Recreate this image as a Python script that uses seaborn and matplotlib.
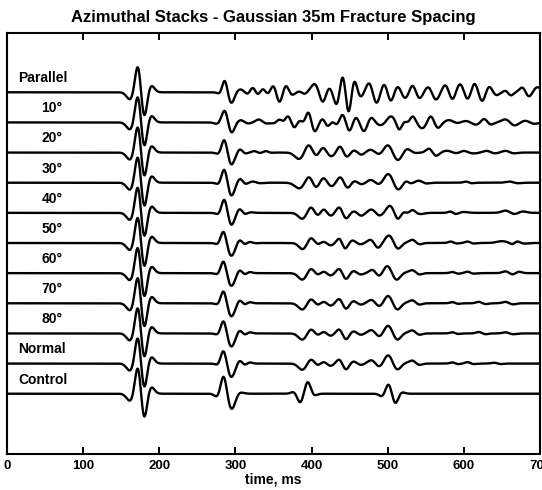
import numpy as np
import pandas as pd
import matplotlib
matplotlib.use("Agg")
import matplotlib.pyplot as plt
import seaborn as sns

# ---------------- data ----------------
trace_names = ["Parallel", "10°", "20°", "30°", "40°", "50°", "60°", "70°", "80°", "Normal", "Control"]
x_ticks = [0, 100, 200, 300, 400, 500, 600, 700]

# first arrival wavelet (identical on every trace): extremum times (ms) and amplitudes (trace spacings)
first_t = [162, 172, 180, 189]
first_a = [-0.25, 0.95, -0.88, 0.24]

parallel_t = [280, 286, 294.5, 306, 316, 323, 329, 336, 342.6, 350, 358, 366, 374, 384, 391, 404, 414.6, 423, 433,
              441, 448.5, 456, 464, 476, 485, 495.5, 504, 513, 523, 532.6, 541.4, 553.6, 563, 576, 585, 595, 605, 614,
              624, 633, 642, 655, 661.5, 677, 685.5, 696.5]
parallel_a = [-0.07, 0.43, -0.37, 0.10, -0.07, 0.17, -0.10, 0.12, -0.07, 0.24, -0.36, 0.25, -0.10, 0.03, -0.06, 0.28,
              -0.36, 0.17, -0.44, 0.62, -0.75, 0.44, -0.17, 0.33, -0.39, 0.30, -0.33, 0.22, -0.22, 0.26, -0.22, 0.19,
              -0.26, 0.26, -0.28, 0.30, -0.28, 0.33, -0.33, 0.22, -0.11, 0.06, -0.11, 0.17, -0.17, 0.17]

deg10_t = [277, 286, 294.5, 307, 316, 331, 340, 350, 358, 363, 369, 377.5, 384, 389, 396, 404, 414.7, 421, 428, 433,
           441, 449.6, 458, 469, 478, 491, 504, 515, 522, 526, 533, 545.7, 556.6, 565.4, 580.7, 591, 602.5, 616,
           626.6, 635, 655, 666, 681, 692]
deg10_a = [-0.06, 0.43, -0.37, 0.08, -0.04, 0.10, -0.04, -0.03, 0.10, -0.02, 0.21, -0.18, 0.08, -0.03, 0.36, -0.31,
           0.13, -0.14, 0.05, -0.10, 0.28, -0.31, 0.19, -0.31, 0.19, -0.10, 0.21, -0.26, 0.05, -0.03, 0.21, -0.20,
           0.24, -0.20, 0.08, -0.03, 0.05, -0.08, 0.13, -0.08, 0.11, -0.11, 0.06, -0.05]

deg20_t = [278, 285.5, 294.5, 306, 312, 325, 332, 340, 346, 384, 396, 406, 415, 425.6, 437.5, 446, 456, 465, 478,
           489, 500.5, 513, 525, 535, 554.5, 563, 578, 590, 600, 612, 630, 640, 655, 665]
deg20_a = [-0.06, 0.46, -0.41, 0.12, -0.04, 0.05, -0.02, 0.05, -0.01, -0.22, 0.27, -0.13, 0.18, -0.13, 0.22, -0.16,
           0.08, -0.08, 0.10, -0.08, 0.27, -0.27, 0.14, -0.02, 0.14, -0.12, 0.06, -0.03, 0.06, -0.03, 0.06, -0.03,
           0.06, -0.03]

deg30_t = [278, 285.5, 294.5, 306, 313, 323, 332, 384, 396.5, 406, 415.6, 425.6, 438, 447, 456, 466, 478, 489, 501,
           513, 524, 530, 541, 550, 603, 610, 660, 670]
deg30_a = [-0.06, 0.48, -0.44, 0.14, -0.05, 0.04, -0.02, -0.19, 0.22, -0.18, 0.18, -0.13, 0.20, -0.19, 0.07, -0.06,
           0.10, -0.08, 0.31, -0.25, 0.07, -0.03, 0.07, -0.03, 0.04, -0.02, 0.04, -0.02]

deg40_t = [278, 285.5, 294.5, 305.5, 312, 320, 388, 399, 408, 416, 425, 436.5, 445, 456, 465, 479, 489, 503, 513,
           521, 526, 532.6, 543, 583, 589, 600, 655, 666, 677]
deg40_a = [-0.06, 0.48, -0.41, 0.14, -0.05, 0.02, -0.20, 0.20, -0.10, 0.13, -0.10, 0.20, -0.20, 0.06, -0.10, 0.12,
           -0.10, 0.24, -0.22, 0.04, -0.02, 0.10, -0.04, 0.05, -0.05, 0.03, 0.08, -0.05, 0.05]

deg50_t = [277, 284.5, 294.5, 305.4, 312, 318.6, 326, 388.5, 399, 408, 416, 425, 436.5, 444, 454, 463, 478, 487,
           502, 513, 523, 532.6, 541, 583, 590, 605, 612, 650, 664, 670, 680]
deg50_a = [-0.05, 0.42, -0.43, 0.12, -0.05, 0.04, -0.01, -0.21, 0.18, -0.05, 0.05, -0.08, 0.16, -0.20, 0.09, -0.05,
           0.12, -0.17, 0.26, -0.21, 0.02, 0.11, -0.05, 0.05, -0.02, 0.05, -0.02, 0.06, -0.05, 0.06, -0.02]

deg60_t = [277, 284.5, 294.5, 305.4, 312, 318.6, 388, 399, 408, 416, 425, 436.5, 445, 455, 464, 480, 489, 500, 511,
           523, 532.6, 541, 585, 592, 605, 612, 655, 664, 672]
deg60_a = [-0.05, 0.43, -0.43, 0.12, -0.05, 0.04, -0.22, 0.16, -0.06, 0.06, -0.08, 0.16, -0.21, 0.08, -0.05, 0.12,
           -0.12, 0.26, -0.24, 0.03, 0.10, -0.05, 0.04, -0.02, 0.05, -0.02, 0.06, -0.05, 0.05]

deg70_t = [277, 284.5, 294.5, 305.4, 312, 318.6, 388, 399, 408, 416, 425, 436.5, 445, 455, 464, 479, 489, 501, 512,
           523, 532.6, 541, 585, 592, 620, 628, 655, 664]
deg70_a = [-0.05, 0.44, -0.44, 0.12, -0.05, 0.04, -0.21, 0.15, -0.06, 0.06, -0.08, 0.16, -0.20, 0.08, -0.05, 0.12,
           -0.12, 0.27, -0.23, 0.03, 0.10, -0.05, 0.04, -0.02, 0.05, -0.03, 0.05, -0.04]

deg80_t = [277, 284.5, 294.5, 305.4, 312, 318.6, 388, 399, 408, 416, 425, 436.5, 445, 455, 464, 479, 489, 501, 512,
           523, 532.6, 541, 585, 592, 620, 628, 655, 664]
deg80_a = [-0.05, 0.45, -0.44, 0.12, -0.05, 0.04, -0.21, 0.15, -0.06, 0.06, -0.08, 0.15, -0.21, 0.08, -0.05, 0.12,
           -0.12, 0.28, -0.23, 0.03, 0.10, -0.05, 0.04, -0.02, 0.05, -0.03, 0.04, -0.03]

normal_t = [277, 284.5, 294.5, 305.4, 312, 318.6, 388, 399, 408, 416, 425, 436.5, 445, 455, 464, 479, 489, 501, 512,
            523, 532.6, 541, 585, 592, 605, 612, 640, 648]
normal_a = [-0.05, 0.46, -0.45, 0.12, -0.05, 0.04, -0.21, 0.15, -0.06, 0.06, -0.08, 0.15, -0.21, 0.08, -0.05, 0.12,
            -0.12, 0.30, -0.22, 0.03, 0.10, -0.05, 0.04, -0.02, 0.05, -0.02, 0.03, -0.02]

control_t = [276.5, 284.5, 295, 305, 377, 385, 395, 403, 493, 501, 510, 518]
control_a = [-0.12, 0.62, -0.52, 0.06, 0.07, -0.30, 0.40, -0.07, -0.10, 0.33, -0.33, 0.06]

trace_events = [
    (parallel_t, parallel_a), (deg10_t, deg10_a), (deg20_t, deg20_a), (deg30_t, deg30_a),
    (deg40_t, deg40_a), (deg50_t, deg50_a), (deg60_t, deg60_a), (deg70_t, deg70_a),
    (deg80_t, deg80_a), (normal_t, normal_a), (control_t, control_a),
]


# ---------------- build the wiggle traces from the extrema ----------------
def wiggle(times, amps, t):
    times = np.asarray(times, float)
    amps = np.asarray(amps, float)
    order = np.argsort(times)
    times, amps = times[order], amps[order]
    gaps = np.diff(times)
    left = np.r_[np.inf, gaps]
    right = np.r_[gaps, np.inf]
    sig = np.clip(0.48 * np.minimum(left, right), 3.4, 7.0)
    return (amps[:, None] * np.exp(-0.5 * ((t[None, :] - times[:, None]) / sig[:, None]) ** 2)).sum(0)


t = np.arange(0, 700.25, 0.25)
n = len(trace_names)
frames = []
for i, (name, (et, ea)) in enumerate(zip(trace_names, trace_events)):
    offset = n - 1 - i
    y = wiggle(list(first_t) + list(et), list(first_a) + list(ea), t) + offset
    frames.append(pd.DataFrame({"time": t, "y": y, "trace": name}))
df = pd.concat(frames, ignore_index=True)

# ---------------- plot ----------------
sns.set_theme(style="white")
plt.rcParams['font.family'] = ['Liberation Sans', 'DejaVu Sans']
plt.rcParams['text.color'] = 'black'
plt.rcParams['axes.labelcolor'] = 'black'
plt.rcParams['xtick.color'] = 'black'

fig = plt.figure(figsize=(5.42, 4.90), dpi=100)
ax = fig.add_axes([7 / 542, 1 - 454 / 490, (540 - 7) / 542, (454 - 33.5) / 490])

sns.lineplot(data=df, x="time", y="y", units="trace", estimator=None, color="black",
             linewidth=1.7, sort=False, ax=ax, legend=False)

for i, name in enumerate(trace_names):
    offset = n - 1 - i
    xpos = 45 if name.endswith("°") else 15
    ax.text(xpos, offset + 0.47, name, fontsize=10, fontweight="bold", ha="left", va="center", color="black")

ax.set_xlim(0, 700)
ax.set_ylim(-2.0, 11.95)
ax.set_yticks([])
ax.set_xticks(x_ticks)
ax.set_xticklabels([str(v) for v in x_ticks], fontweight="bold", fontsize=9.5)
ax.tick_params(axis="x", direction="in", length=5, width=1.4, top=True, bottom=True, pad=4, colors="black")
for sp in ax.spines.values():
    sp.set_visible(True)
    sp.set_linewidth(1.5)
    sp.set_color("black")
ax.set_xlabel("time, ms", fontsize=10, fontweight="bold", labelpad=1, color="black")
ax.set_ylabel("")
ax.set_title("Azimuthal Stacks - Gaussian 35m Fracture Spacing", fontsize=12, fontweight="bold", pad=8,
             color="black")

fig.savefig("out.png", dpi=100)
